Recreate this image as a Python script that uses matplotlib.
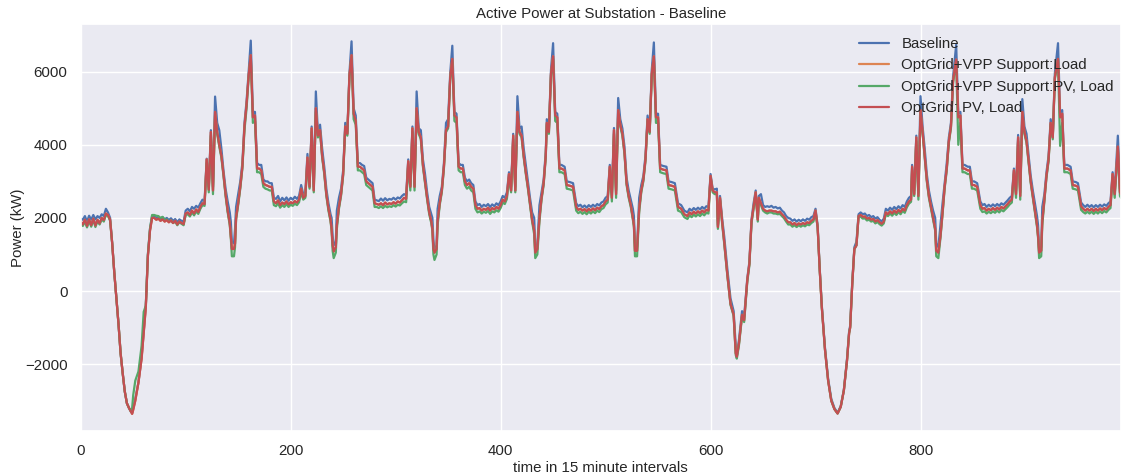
import matplotlib
matplotlib.use("Agg")
import matplotlib.pyplot as plt
import seaborn as sns

sns.set_theme(style="darkgrid")
plt.rcParams['font.family'] = ['Liberation Sans', 'DejaVu Sans']

fontsize = 10.8

# sample index (15 minute steps)
t_idx = [
    0, 2, 4, 6, 8, 10, 12, 14, 16, 18, 20, 22, 24, 26, 28, 30, 32, 34, 36, 38,
    40, 42, 44, 46, 48, 49, 50, 52, 55, 58, 60, 62, 64, 66, 68, 70, 72, 74, 76, 78,
    80, 82, 84, 86, 88, 90, 92, 94, 96, 98,
    100, 102, 104, 106, 108, 110, 112, 114, 116, 118, 120, 122, 124, 126, 128, 130, 132, 134, 136, 138,
    140, 142, 143, 144, 146, 147, 148, 150, 152, 154, 156, 158, 160, 162, 164, 166, 168, 170, 172, 174,
    176, 178, 180, 182, 184, 186, 188, 190,
    192, 194, 196, 198, 200, 202, 204, 206, 208, 210, 212, 214, 216, 218, 220, 222, 224, 226, 228, 230,
    232, 234, 236, 238, 239, 240, 241, 243, 244, 246, 248, 250, 252, 254, 256, 258, 260, 262, 264, 266,
    268, 270, 272, 274, 276, 278, 280, 282, 284, 286,
    288, 290, 292, 294, 296, 298, 300, 302, 304, 306, 308, 310, 312, 314, 316, 318, 320, 322, 324, 326,
    328, 330, 332, 334, 335, 336, 337, 339, 340, 342, 344, 346, 348, 350, 352, 354, 356, 358, 360, 362,
    364, 366, 368, 370, 372, 374, 376, 378, 380, 382,
    384, 386, 388, 390, 392, 394, 396, 398, 400, 402, 404, 406, 408, 410, 412, 414, 416, 418, 420, 422,
    424, 426, 428, 430, 432, 433, 435, 437, 439, 441, 443, 444, 446, 448, 450, 452, 454, 456, 458, 461,
    463, 466, 469, 472, 474, 476, 478,
    480, 482, 484, 486, 488, 490, 492, 494, 496, 498, 500, 502, 504, 506, 508, 510, 512, 514, 516, 518,
    520, 522, 524, 526, 527, 528, 530, 532, 534, 536, 538, 540, 542, 544, 546, 548, 550, 552, 555, 558,
    560, 563, 566, 569, 572,
    575, 578, 580, 582, 584, 586, 588, 590, 592, 594, 596, 598, 600, 602, 604, 606, 607, 609, 611, 613,
    616, 619, 622, 624, 625, 627, 630, 632, 635, 637, 639, 641, 643, 645, 646, 648, 650, 652, 654, 656,
    658, 660, 662, 664, 666, 668, 670,
    672, 674, 676, 678, 680, 682, 684, 686, 688, 690, 692, 694, 696, 698, 700, 702, 704, 706, 709, 712,
    715, 718, 721, 724, 727, 730, 732, 733, 735, 737, 739, 741, 743, 745, 747, 749, 751, 753, 755, 757,
    759, 761, 763, 765,
    767, 769, 771, 773, 775, 777, 779, 781, 783, 785, 787, 789, 791, 792, 794, 796, 798, 800, 802, 804,
    806, 808, 810, 812, 814, 815, 817, 819, 821, 823, 825, 827, 829, 831, 834, 836, 838, 840, 842, 845,
    847, 849, 851, 854, 857,
    859, 861, 863, 865, 867, 869, 871, 873, 875, 877, 879, 881, 883, 885, 887, 889, 891, 893, 895, 897,
    899, 901, 903, 905, 907, 909, 911, 912, 913, 915, 916, 918, 920, 922, 924, 926, 928, 931, 933, 935,
    937, 940, 943, 945, 948, 950, 953, 955,
    957, 959, 961, 963, 965, 967, 969, 971, 973, 975, 977, 979, 981, 983, 985, 988, 990, 991,
]

baseline = [
    1980, 1950, 2050, 1900, 2060, 1950, 2080, 1960, 2050, 2000, 2100, 2050, 2250, 2150, 2000, 1300, 500, -200, -900, -1700,
    -2250, -2750, -3070, -3200, -3310, -3330, -3200, -2950, -2500, -1800, -1100, -400, 1000, 1700, 2050, 2050, 2000, 2030, 1980, 2020,
    1960, 2000, 1940, 1990, 1920, 1970, 1880, 1960, 1920, 1900,
    2200, 2250, 2180, 2300, 2250, 2330, 2280, 2400, 2500, 2450, 3620, 2850, 4400, 2850, 5320, 4600, 4400, 3900, 3300, 2800,
    2450, 2150, 1900, 1350, 1300, 1700, 2300, 2650, 3000, 3500, 4600, 5200, 6000, 6850, 4900, 4900, 3500, 3450, 3450, 3050,
    3000, 3000, 2950, 2950, 2550, 2520, 2600, 2450,
    2550, 2480, 2560, 2470, 2550, 2500, 2580, 2520, 2600, 2900, 2650, 2700, 3750, 2950, 4500, 2850, 5460, 4300, 4550, 3900,
    3400, 2800, 2400, 2100, 2000, 1500, 1250, 1350, 2200, 2550, 2800, 3300, 4600, 4350, 5960, 6830, 5000, 4800, 3500, 3500,
    3450, 3420, 3100, 3050, 3000, 2950, 2500, 2480, 2460, 2530,
    2470, 2540, 2480, 2520, 2500, 2550, 2500, 2560, 2530, 2600, 2650, 2620, 3600, 2900, 4500, 2900, 5460, 4450, 4400, 3600,
    3200, 2700, 2300, 2100, 2000, 1400, 1100, 1250, 2250, 2600, 2850, 3500, 4600, 4700, 5960, 6710, 4900, 4850, 3500, 3450,
    3450, 3100, 3000, 3050, 2950, 2900, 2450, 2350, 2380, 2300,
    2360, 2320, 2380, 2300, 2370, 2320, 2400, 2350, 2450, 2600, 2550, 2700, 3250, 2850, 4300, 2850, 5330, 4450, 4500, 3900,
    3450, 3000, 2550, 2150, 2000, 1200, 1250, 2350, 2700, 3050, 3800, 4700, 4450, 6050, 6780, 4900, 4850, 3450, 3450, 3400,
    3000, 2980, 2950, 2400, 2320, 2360, 2290,
    2340, 2280, 2350, 2300, 2360, 2310, 2380, 2340, 2420, 2450, 2550, 2600, 3450, 2650, 4460, 2750, 5280, 4700, 4450, 3950,
    3100, 2750, 2500, 2250, 2050, 1300, 1200, 2550, 2900, 3150, 3700, 4800, 4400, 6050, 6800, 4850, 4850, 3450, 3420, 3400,
    3000, 2980, 2950, 2400, 2350,
    2200, 2150, 2250, 2200, 2270, 2220, 2280, 2230, 2300, 2250, 2320, 2300, 3200, 2800, 2780, 2800, 1800, 2600, 2000, 1500,
    600, -200, -550, -1500, -1750, -1350, -550, -700, 350, 800, 1950, 2400, 2750, 2000, 2600, 2650, 2350, 2300, 2320, 2300,
    2330, 2280, 2300, 2260, 2280, 2200, 2150,
    2050, 2000, 1980, 1920, 1960, 1900, 1950, 1910, 1960, 1920, 1980, 1950, 2020, 2050, 2250, 1800, 600, -400, -1550, -2400,
    -2950, -3200, -3330, -3150, -2700, -1850, -1100, -950, 250, 1200, 1350, 2100, 2150, 2100, 2120, 2050, 2080, 2020, 2050, 1980,
    2020, 1950, 1900, 1980,
    2250, 2200, 2280, 2220, 2300, 2240, 2320, 2260, 2350, 2300, 2450, 2550, 2600, 3450, 2750, 4250, 2700, 5330, 4500, 3900,
    3200, 2750, 2450, 2200, 2000, 1300, 1200, 1800, 2400, 2950, 3500, 4200, 4600, 5850, 6740, 4850, 4900, 3450, 3450, 3400,
    3400, 3000, 3000, 2950, 2450,
    2350, 2380, 2300, 2360, 2310, 2370, 2320, 2380, 2330, 2400, 2360, 2420, 2480, 2550, 2600, 3350, 2750, 4270, 2700, 5250,
    4500, 4300, 3700, 3150, 2750, 2400, 2050, 1800, 1150, 1200, 2300, 2650, 3250, 3700, 4700, 4250, 5960, 6780, 4850, 4950,
    3450, 3450, 3400, 3000, 2980, 2950, 2420, 2350,
    2300, 2360, 2300, 2350, 2290, 2350, 2300, 2360, 2310, 2370, 2330, 2400, 2450, 3250, 2750, 4250, 2800, 2750,
]

optgrid_pv_load = [
    1900, 1820, 1950, 1780, 1960, 1800, 1980, 1790, 1950, 1850, 2000, 1940, 2120, 2080, 1950, 1300, 500, -200, -900, -1700,
    -2250, -2750, -3070, -3200, -3310, -3360, -3250, -3000, -2500, -1850, -1150, -450, 950, 1650, 2000, 2000, 1950, 1980, 1920, 1960,
    1900, 1940, 1880, 1930, 1860, 1920, 1820, 1900, 1860, 1830,
    2120, 2150, 2080, 2200, 2120, 2230, 2160, 2300, 2400, 2380, 3600, 2770, 4350, 2750, 4900, 4350, 4000, 3700, 3200, 2650,
    2200, 1850, 1500, 1150, 1150, 1300, 2000, 2400, 2850, 3400, 4500, 5100, 5900, 6450, 4750, 4800, 3350, 3350, 3300, 2950,
    2900, 2880, 2850, 2850, 2450, 2400, 2480, 2350,
    2420, 2380, 2450, 2370, 2430, 2400, 2460, 2420, 2500, 2800, 2550, 2600, 3650, 2850, 4450, 2750, 5000, 4250, 4400, 3700,
    3250, 2650, 2250, 1950, 1700, 1250, 1080, 1200, 1800, 2300, 2650, 3200, 4500, 4300, 5900, 6450, 4850, 4650, 3400, 3400,
    3350, 3300, 3000, 2950, 2900, 2850, 2400, 2380, 2360, 2400,
    2350, 2420, 2370, 2400, 2380, 2430, 2390, 2450, 2420, 2480, 2550, 2520, 3550, 2850, 4450, 2850, 5000, 4350, 4200, 3450,
    3000, 2550, 2150, 1900, 1700, 1150, 1050, 1150, 1900, 2400, 2750, 3400, 4400, 4500, 5850, 6350, 4800, 4750, 3400, 3350,
    3350, 3000, 2900, 2950, 2850, 2800, 2350, 2250, 2270, 2200,
    2250, 2220, 2280, 2200, 2270, 2230, 2300, 2250, 2350, 2500, 2450, 2600, 3200, 2750, 4250, 2750, 4900, 4350, 4250, 3700,
    3250, 2850, 2400, 1950, 1650, 1050, 1150, 2000, 2550, 2950, 3700, 4600, 4350, 5950, 6420, 4800, 4750, 3350, 3350, 3300,
    2900, 2880, 2850, 2300, 2220, 2250, 2200,
    2240, 2180, 2250, 2200, 2260, 2210, 2280, 2240, 2320, 2350, 2450, 2500, 3400, 2550, 4400, 2650, 4950, 4550, 4300, 3800,
    2950, 2600, 2350, 2000, 1800, 1100, 1100, 2250, 2750, 3050, 3600, 4700, 4350, 5950, 6420, 4750, 4750, 3350, 3320, 3300,
    2900, 2880, 2850, 2300, 2250,
    2100, 2050, 2150, 2100, 2170, 2120, 2180, 2130, 2200, 2150, 2220, 2200, 3150, 2750, 2700, 2700, 1750, 2550, 1900, 1350,
    450, -350, -650, -1700, -1800, -1450, -650, -800, 300, 750, 1900, 2300, 2700, 1950, 2550, 2400, 2250, 2200, 2180, 2200,
    2200, 2180, 2180, 2150, 2170, 2100, 2040,
    1950, 1880, 1880, 1820, 1860, 1800, 1850, 1820, 1860, 1830, 1880, 1860, 1920, 1960, 2200, 1750, 580, -450, -1600, -2450,
    -3000, -3230, -3350, -3170, -2720, -1900, -1150, -1000, 200, 1150, 1250, 2050, 2080, 2030, 2040, 1980, 2000, 1950, 1970, 1900,
    1940, 1880, 1840, 1900,
    2150, 2100, 2180, 2120, 2200, 2140, 2220, 2160, 2250, 2200, 2350, 2450, 2500, 3400, 2650, 4200, 2600, 4950, 4350, 3700,
    3050, 2600, 2300, 2000, 1700, 1100, 1050, 1500, 2150, 2850, 3350, 4100, 4500, 5750, 6330, 4750, 4800, 3350, 3350, 3300,
    3300, 2900, 2900, 2850, 2350,
    2250, 2270, 2200, 2250, 2210, 2270, 2220, 2280, 2230, 2300, 2260, 2320, 2380, 2450, 2500, 3300, 2650, 4200, 2600, 4900,
    4350, 4100, 3550, 3000, 2600, 2200, 1800, 1500, 1050, 1100, 1900, 2500, 3150, 3600, 4600, 4200, 5850, 6350, 4750, 4850,
    3350, 3350, 3300, 2900, 2880, 2850, 2320, 2250,
    2200, 2250, 2200, 2250, 2190, 2250, 2200, 2260, 2210, 2270, 2230, 2300, 2350, 3200, 2650, 3950, 2700, 2650,
]

vpp_pv_load = [
    1850, 1780, 1900, 1740, 1920, 1760, 1950, 1750, 1910, 1820, 1960, 1900, 2080, 2050, 1920, 1300, 500, -200, -900, -1700,
    -2250, -2750, -3070, -3200, -3300, -3200, -2850, -2450, -2200, -1500, -570, -400, 1000, 1700, 2080, 2080, 2060, 2050, 2000, 2030,
    1950, 1960, 1900, 1930, 1860, 1900, 1800, 1880, 1840, 1800,
    2080, 2100, 2040, 2150, 2070, 2180, 2110, 2250, 2350, 2330, 3500, 2700, 4250, 2650, 4800, 4300, 3950, 3650, 3150, 2600,
    2150, 1800, 1450, 950, 950, 1200, 1950, 2350, 2800, 3350, 4400, 5000, 5850, 6400, 4600, 4650, 3250, 3250, 3200, 2850,
    2800, 2780, 2750, 2750, 2350, 2320, 2400, 2280,
    2350, 2300, 2380, 2300, 2360, 2330, 2390, 2350, 2430, 2700, 2500, 2550, 3550, 2800, 4350, 2700, 4900, 4200, 4350, 3650,
    3200, 2600, 2200, 1900, 1650, 1100, 900, 1050, 1700, 2250, 2600, 3150, 4450, 4250, 5850, 6400, 4700, 4550, 3300, 3300,
    3250, 3200, 2900, 2850, 2800, 2750, 2300, 2300, 2270, 2320,
    2270, 2330, 2290, 2320, 2300, 2350, 2310, 2360, 2340, 2400, 2450, 2430, 3450, 2750, 4350, 2750, 4900, 4300, 4150, 3400,
    2950, 2500, 2100, 1850, 1650, 1000, 850, 1000, 1800, 2350, 2700, 3350, 4350, 4450, 5800, 6300, 4650, 4600, 3300, 3250,
    3250, 2900, 2800, 2850, 2750, 2700, 2250, 2150, 2180, 2120,
    2170, 2140, 2190, 2110, 2180, 2150, 2210, 2170, 2270, 2420, 2380, 2520, 3100, 2700, 4150, 2700, 4800, 4300, 4200, 3650,
    3200, 2800, 2350, 1900, 1550, 900, 1000, 1900, 2500, 2900, 3650, 4550, 4300, 5900, 6350, 4650, 4600, 3250, 3250, 3200,
    2800, 2780, 2750, 2200, 2130, 2170, 2110,
    2160, 2100, 2170, 2120, 2180, 2130, 2200, 2160, 2240, 2270, 2370, 2420, 3300, 2450, 4300, 2550, 4850, 4500, 4250, 3750,
    2900, 2550, 2300, 1950, 1750, 950, 950, 2150, 2700, 3000, 3550, 4650, 4300, 5900, 6350, 4600, 4600, 3250, 3220, 3200,
    2800, 2780, 2750, 2200, 2160,
    2020, 1970, 2070, 2020, 2090, 2040, 2100, 2050, 2120, 2070, 2140, 2120, 3100, 2700, 2650, 2650, 1700, 2500, 1850, 1300,
    420, -380, -680, -1750, -1850, -1500, -700, -850, 250, 700, 1850, 2250, 2650, 1900, 2500, 2350, 2200, 2150, 2120, 2150,
    2150, 2120, 2120, 2100, 2110, 2050, 1990,
    1900, 1820, 1820, 1760, 1800, 1750, 1800, 1760, 1800, 1770, 1820, 1800, 1860, 1900, 2150, 1750, 580, -450, -1600, -2450,
    -3000, -3230, -3350, -3170, -2720, -1900, -1150, -1000, 200, 1150, 1250, 2050, 2030, 1980, 1990, 1930, 1950, 1900, 1920, 1850,
    1890, 1830, 1790, 1850,
    2100, 2050, 2120, 2060, 2140, 2080, 2160, 2100, 2190, 2140, 2290, 2390, 2440, 3300, 2600, 4100, 2500, 4850, 4300, 3650,
    3000, 2550, 2250, 1950, 1650, 950, 900, 1450, 2100, 2800, 3300, 4050, 4450, 5700, 6280, 4000, 4600, 3250, 3250, 3200,
    3200, 2800, 2800, 2750, 2250,
    2160, 2180, 2120, 2170, 2130, 2180, 2140, 2200, 2150, 2220, 2180, 2240, 2300, 2370, 2420, 3200, 2550, 4100, 2500, 4800,
    4300, 4050, 3500, 2950, 2550, 2150, 1750, 1450, 900, 950, 1800, 2450, 3100, 3550, 4550, 4150, 5800, 6300, 3970, 4600,
    3250, 3250, 3200, 2800, 2780, 2750, 2220, 2160,
    2120, 2170, 2120, 2170, 2110, 2170, 2120, 2180, 2130, 2190, 2150, 2220, 2270, 3100, 2550, 3850, 2600, 2550,
]

# the load-only VPP run sits exactly under the red line in the picture
vpp_load = list(optgrid_pv_load)

labels = ['Baseline', 'OptGrid+VPP Support:Load', 'OptGrid+VPP Support:PV, Load', 'OptGrid: PV, Load']
colors = sns.color_palette('deep', 4)

for series in (baseline, vpp_load, vpp_pv_load, optgrid_pv_load):
    assert len(series) == len(t_idx), (len(series), len(t_idx))

fig = plt.figure(figsize=(11.21, 4.74), dpi=100)
ax = fig.add_axes([0.072, 0.0914, 0.928, 0.858])

for series, lab, col in zip((baseline, vpp_load, vpp_pv_load, optgrid_pv_load), labels, colors):
    ax.plot(t_idx, series, color=col, linewidth=1.6, label=lab)

ax.set_xlim(0, 991)
ax.set_ylim(-3820, 7305)
ax.set_xticks([0, 200, 400, 600, 800])
ax.set_yticks([-2000, 0, 2000, 4000, 6000])
ax.tick_params(labelsize=fontsize)

ax.set_title('Active Power at Substation - Baseline', fontsize=fontsize, pad=4)
ax.set_xlabel('time in 15 minute intervals', fontsize=fontsize, labelpad=2)
ax.set_ylabel('Power (kW)', fontsize=fontsize, labelpad=0)

ax.legend(loc='upper right', bbox_to_anchor=(0.999, 0.983), borderaxespad=0,
          frameon=False, fontsize=fontsize)

fig.savefig('out.png', dpi=100)
